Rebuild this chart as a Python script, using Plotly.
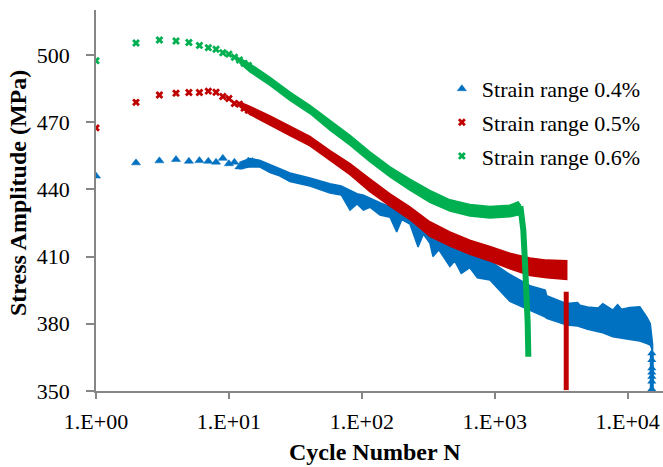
import plotly.graph_objects as go

# ---------------- data ----------------
# Early, individually visible cycles
blue_n = [1, 2, 3, 4, 5, 6, 7, 8, 9, 10, 11, 12, 13, 14, 15, 16]
blue_s = [445.9, 451.8, 452.7, 453.3, 452.5, 452.8, 452.5, 452.1, 453.8, 451.4,
          452.1, 450.0, 451.3, 452.6, 452.4, 451.5]
red_n = [1, 2, 3, 4, 5, 6, 7, 8, 9, 10, 11, 12, 13, 14, 15]
red_s = [467.4, 478.8, 482.1, 482.9, 483.2, 483.2, 483.8, 483.3, 481.4, 480.5,
         478.3, 478.0, 476.2, 475.3, 474.6]
green_n = [1, 2, 3, 4, 5, 6, 7, 8, 9, 10, 11, 12, 13, 14]
green_s = [497.4, 505.3, 506.6, 506.2, 505.5, 504.2, 503.2, 502.5, 500.9, 500.3,
           498.9, 497.7, 496.2, 495.3]

# Dense part: band of overlapping markers (upper / lower edge)
blue_band_n = [12, 14.4, 17, 20.4, 24, 28.8, 40.7, 57.6, 70, 81.5, 92, 103, 115, 137,
               163, 183, 200, 230, 265, 290, 325, 343, 380, 460, 500, 560, 650, 740,
               920, 1300, 1840, 2400, 2460, 3480, 4200, 4380, 5000, 6000, 6500, 7750,
               8400, 9000, 10400, 12350, 13950, 14800, 15400]
blue_band_hi = [452, 453.7, 453, 451, 449, 447.3, 445, 442.5, 441.5, 439.6, 438, 437.4,
                436, 434, 432.2, 431.5, 430.5, 428.5, 427, 423, 420.5, 419.5, 418,
                415.8, 414, 412.5, 412, 410, 408, 402, 397, 395, 392.5, 389, 389.5,
                388.3, 387.5, 387, 389, 386.1, 388.5, 386.5, 387.3, 387.6, 383, 380, 371]
blue_band_lo = [449, 450, 450, 447.5, 446, 443.5, 441.5, 438.3, 437.5, 430.7, 433.5,
                430.7, 432, 428.5, 427.5, 421, 426.5, 424.5, 414.3, 420, 416, 410, 413,
                405.5, 408, 402.5, 405, 400.5, 399.5, 390, 386, 383, 382.4, 379.4, 379,
                378.7, 377.5, 376.5, 376, 374.2, 374, 373.5, 373, 372.3, 371.2, 370.5, 368]
blue_tail_n = [15200, 15200, 15200, 15200, 15200, 15200, 15200]
blue_tail_s = [366.8, 363.8, 360.1, 358.2, 356.4, 354.2, 350.8]

red_band_n = [12, 14.4, 20.4, 28.8, 40.7, 57.6, 81.5, 115, 163, 230, 325, 460, 650,
              920, 1300, 1840, 2460, 3480]
red_band_hi = [479, 477, 472.7, 468, 463.6, 457.3, 451.5, 444.7, 438, 432.2, 425.5,
               421, 417.3, 414.5, 411.5, 409.3, 408.4, 408.1]
red_band_lo = [477, 473.4, 468.8, 464, 459.4, 453, 446.5, 439, 432.5, 426.5, 419,
               414.7, 411, 408, 404.5, 401.5, 400.5, 399.8]
red_drop_n = [3450, 3450]
red_drop_s = [394.3, 350.4]

green_band_n = [12, 14.4, 20.4, 28.8, 40.7, 57.6, 81.5, 115, 163, 230, 325, 460, 650,
                920, 1300, 1500, 1560]
green_band_hi = [498.5, 496, 490, 483.4, 477.5, 470.8, 464.1, 456.7, 450, 444.5,
                 439.5, 435.3, 433.2, 432.3, 432.9, 434.4, 433]
green_band_lo = [496.5, 492.4, 486.4, 479.7, 473.8, 466.4, 459.7, 452.3, 445.5, 439.6,
                 434.2, 430.3, 428.1, 427.2, 427.7, 428.5, 429]
green_drop_n = [1560, 1600, 1641, 1690, 1741, 1770, 1790]
green_drop_s = [432.5, 427, 421.8, 406.9, 395, 380.3, 365.3]

names = ["Strain range 0.4%", "Strain range 0.5%", "Strain range 0.6%"]
colors = ["#0070C0", "#C00000", "#00B050"]

x_tickvals = [1, 10, 100, 1000, 10000]
x_ticktext = ["1.E+00", "1.E+01", "1.E+02", "1.E+03", "1.E+04"]
y_tickvals = [350, 380, 410, 440, 470, 500]

FONT = "Liberation Serif, Times New Roman, serif"

fig = go.Figure()


def band(n, hi, lo, color):
    fig.add_trace(go.Scatter(
        x=list(n) + list(n)[::-1], y=list(hi) + list(lo)[::-1],
        mode="lines", fill="toself", fillcolor=color,
        line=dict(color=color, width=1.5), showlegend=False, hoverinfo="skip"))


# blue series
band(blue_band_n, blue_band_hi, blue_band_lo, colors[0])
fig.add_trace(go.Scatter(x=blue_tail_n, y=blue_tail_s, mode="lines+markers",
                         line=dict(color=colors[0], width=4),
                         marker=dict(symbol="triangle-up", size=8, color=colors[0]),
                         showlegend=False))
fig.add_trace(go.Scatter(x=blue_n, y=blue_s, mode="markers", name=names[0],
                         legendgroup="a",
                         marker=dict(symbol="triangle-up", size=8, color=colors[0],
                                     line=dict(color=colors[0], width=0.5))))

# red series
band(red_band_n, red_band_hi, red_band_lo, colors[1])
fig.add_trace(go.Scatter(x=red_drop_n, y=red_drop_s, mode="lines",
                         line=dict(color=colors[1], width=5), showlegend=False))
fig.add_trace(go.Scatter(x=red_n, y=red_s, mode="markers", name=names[1],
                         legendgroup="b",
                         marker=dict(symbol="x", size=7, color=colors[1],
                                     line=dict(width=0))))

# green series
band(green_band_n, green_band_hi, green_band_lo, colors[2])
fig.add_trace(go.Scatter(x=green_drop_n, y=green_drop_s, mode="lines",
                         line=dict(color=colors[2], width=6), showlegend=False))
fig.add_trace(go.Scatter(x=green_n, y=green_s, mode="markers", name=names[2],
                         legendgroup="c",
                         marker=dict(symbol="x", size=7, color=colors[2],
                                     line=dict(width=0))))

axis_common = dict(showline=True, linecolor="#868686", linewidth=1.5,
                   ticks="outside", tickcolor="#868686", tickwidth=1.5,
                   showgrid=False, zeroline=False,
                   tickfont=dict(family=FONT, size=22, color="#000000"))

fig.update_layout(
    width=663, height=467,
    margin=dict(l=96, r=0, t=10, b=76),
    paper_bgcolor="white", plot_bgcolor="white",
    xaxis=dict(type="log", range=[0, 4.266], tickvals=x_tickvals,
               ticktext=x_ticktext, ticklen=6, ticklabelstandoff=4, **axis_common),
    yaxis=dict(range=[350, 520], tickvals=y_tickvals, ticklen=8,
               ticklabelstandoff=12, **axis_common),
    legend=dict(x=0.610, y=0.848, xanchor="left", yanchor="top",
                bgcolor="rgba(0,0,0,0)", tracegroupgap=2,
                font=dict(family=FONT, size=22, color="#000000")),
    annotations=[
        dict(text="<b>Cycle Number N</b>", xref="paper", yref="paper",
             x=0.492, y=-0.160, xanchor="center", yanchor="middle",
             showarrow=False, font=dict(family=FONT, size=24, color="#000000")),
        dict(text="<b>Stress Amplitude (MPa)</b>", xref="paper", yref="paper",
             x=-0.1367, y=0.521, xanchor="center", yanchor="middle",
             textangle=-90, showarrow=False,
             font=dict(family=FONT, size=24, color="#000000")),
    ],
)

fig.write_html("out.html")
